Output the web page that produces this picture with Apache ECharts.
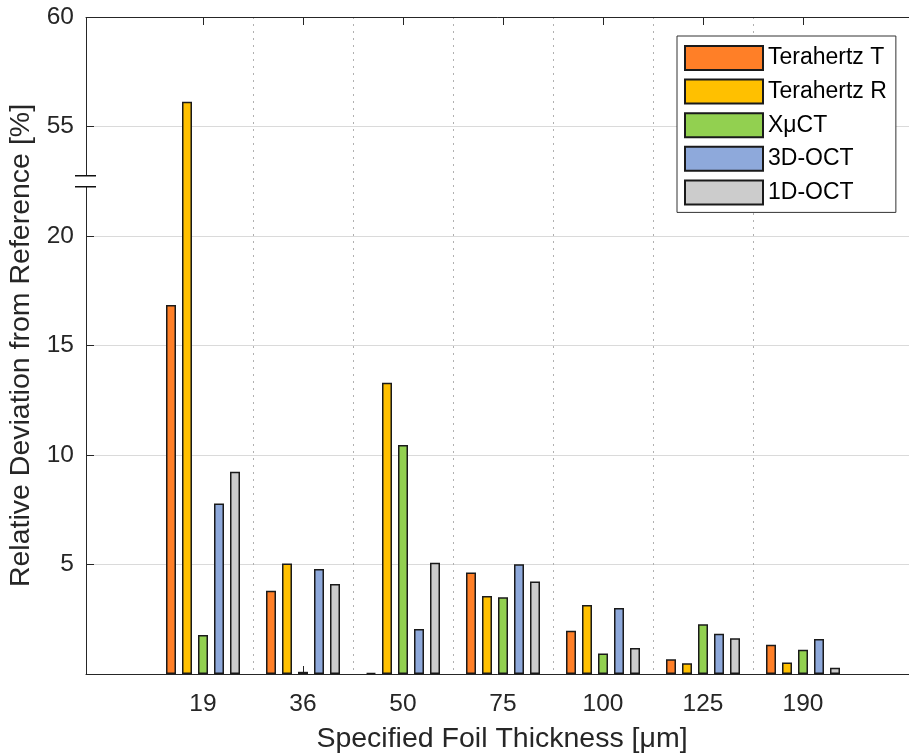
<!DOCTYPE html>
<html>
<head>
<meta charset="utf-8">
<script src="https://cdn.jsdelivr.net/npm/echarts@6/dist/echarts.min.js"></script>
<style>
html,body{margin:0;padding:0;background:#fff;}
#chart{width:909px;height:755px;}
</style>
</head>
<body>
<div id="chart"></div>
<script>
// ---- data ----
const categories = ['19', '36', '50', '75', '100', '125', '190'];
const seriesNames = ['Terahertz T', 'Terahertz R', 'XμCT', '3D-OCT', '1D-OCT'];
const terahertzT = [16.85, 3.80, 0.05, 4.63, 1.98, 0.67, 1.34];
const terahertzR = [56.13, 5.05, 13.30, 3.56, 3.15, 0.49, 0.53];
const xuct      = [1.78, 0.10, 10.46, 3.50, 0.94, 2.27, 1.11];
const oct3d     = [7.79, 4.79, 2.05, 5.01, 3.01, 1.84, 1.60];
const oct1d     = [9.24, 4.11, 5.08, 4.22, 1.19, 1.63, 0.29];
const yTickValues = [0, 5, 10, 15, 20, 55, 60];
const yTickLabels = ['', '5', '10', '15', '20', '55', '60'];
// axis break: values above breakHigh are shifted down to close the gap
const breakLow = 20, breakHigh = 55, breakShown = 5;

const colors = ['#FF7F27', '#FFC000', '#92D050', '#8EA9DB', '#CCCCCC'];
const FONT = "'Liberation Sans', Arial, Helvetica, sans-serif";
const TXT = '#262626';

function toAxis(v) {
  return v > breakLow ? v - (breakHigh - breakLow - breakShown) : v;
}
function fromAxis(a) {
  return a > breakLow ? a + (breakHigh - breakLow - breakShown) : a;
}
const yMax = toAxis(60);

const allData = [terahertzT, terahertzR, xuct, oct3d, oct1d];

const chart = echarts.init(document.getElementById('chart'), null, {renderer: 'canvas'});

const option = {
  animation: false,
  backgroundColor: '#fff',
  textStyle: {fontFamily: FONT},
  grid: [
    {left: 86, top: 17, width: 832, height: 657, containLabel: false, outerBoundsMode: 'none'},
    {left: 153, top: 17, width: 700, height: 657, containLabel: false, outerBoundsMode: 'none'}
  ],
  xAxis: [
    { // frame bottom
      gridIndex: 0, type: 'value', min: 0, max: 1, position: 'bottom',
      axisLine: {show: true, lineStyle: {color: TXT, width: 1}},
      axisTick: {show: false}, axisLabel: {show: false}, splitLine: {show: false},
      name: 'Specified Foil Thickness [μm]', nameLocation: 'middle', nameGap: 51,
      nameTextStyle: {fontSize: 28.5, color: TXT, fontFamily: FONT}
    },
    { // frame top
      gridIndex: 0, type: 'value', min: 0, max: 1, position: 'top',
      axisLine: {show: true, lineStyle: {color: TXT, width: 1}},
      axisTick: {show: false}, axisLabel: {show: false}, splitLine: {show: false}
    },
    { // categories bottom
      gridIndex: 1, type: 'category', data: categories, position: 'bottom',
      boundaryGap: true,
      axisLine: {show: false},
      axisTick: {show: true, inside: true, length: 8, alignWithLabel: true, lineStyle: {color: TXT}},
      axisLabel: {show: true, fontSize: 24.5, color: TXT, margin: 18, fontFamily: FONT},
      splitLine: {show: true, showMinLine: false, showMaxLine: false,
        lineStyle: {color: '#b0b0b0', type: [2, 5], width: 1}}
    },
    { // categories top ticks
      gridIndex: 1, type: 'category', data: categories, position: 'top',
      boundaryGap: true,
      axisLine: {show: false},
      axisTick: {show: true, inside: true, length: 8, alignWithLabel: true, lineStyle: {color: TXT}},
      axisLabel: {show: false}, splitLine: {show: false}
    }
  ],
  yAxis: [
    {
      gridIndex: 0, type: 'value', min: 0, max: yMax, interval: 5,
      axisLine: {show: false},
      axisTick: {show: true, inside: true, length: 8, lineStyle: {color: TXT}},
      axisLabel: {
        fontSize: 24.5, color: TXT, margin: 12, fontFamily: FONT,
        formatter: function (a) {
          const real = Math.round(fromAxis(a));
          const i = yTickValues.indexOf(real);
          return i >= 0 ? yTickLabels[i] : '';
        }
      },
      splitLine: {show: true, lineStyle: {color: '#dadada', width: 1}},
      name: 'Relative Deviation from Reference [%]', nameLocation: 'middle', nameRotate: 90, nameGap: 48,
      nameTextStyle: {fontSize: 28.5, color: TXT, fontFamily: FONT}
    },
    {
      gridIndex: 1, type: 'value', min: 0, max: yMax, interval: 5, show: false
    }
  ],
  legend: {
    orient: 'vertical', left: 677, top: 36,
    padding: [9, 9, 7, 7],
    itemWidth: 78, itemHeight: 24, itemGap: 7.6,
    icon: 'rect',
    backgroundColor: '#fff', borderColor: '#333', borderWidth: 1, borderRadius: 0,
    textStyle: {fontSize: 23, lineHeight: 24, color: '#000', fontFamily: FONT},
    data: seriesNames
  },
  series: seriesNames.map(function (name, k) {
    return {
      name: name, type: 'bar', xAxisIndex: 2, yAxisIndex: 1,
      barWidth: 10, barGap: '60%',
      itemStyle: {color: colors[k], borderColor: '#1a1a1a', borderWidth: 1.5},
      data: allData[k].map(toAxis)
    };
  })
};

chart.setOption(option);

// axis line with break marks
const x0 = chart.convertToPixel({xAxisIndex: 0}, 0);
const yBottom = chart.convertToPixel({yAxisIndex: 0}, 0);
const yTop = chart.convertToPixel({yAxisIndex: 0}, yMax);
const yBreak = chart.convertToPixel({yAxisIndex: 0}, toAxis(breakLow) + breakShown / 2);
const half = 5.5;
const ls = {stroke: TXT, lineWidth: 1};
const bs = {stroke: '#111', lineWidth: 1.5};
chart.setOption({
  graphic: [
    {type: 'line', shape: {x1: x0 + 0.5, y1: yBottom, x2: x0 + 0.5, y2: yBreak + half}, style: ls, z: 10},
    {type: 'line', shape: {x1: x0 + 0.5, y1: yBreak - half, x2: x0 + 0.5, y2: yTop}, style: ls, z: 10},
    {type: 'line', shape: {x1: x0 - 11, y1: yBreak - half, x2: x0 + 10, y2: yBreak - half}, style: bs, z: 10},
    {type: 'line', shape: {x1: x0 - 11, y1: yBreak + half, x2: x0 + 10, y2: yBreak + half}, style: bs, z: 10}
  ]
});
</script>
</body>
</html>
